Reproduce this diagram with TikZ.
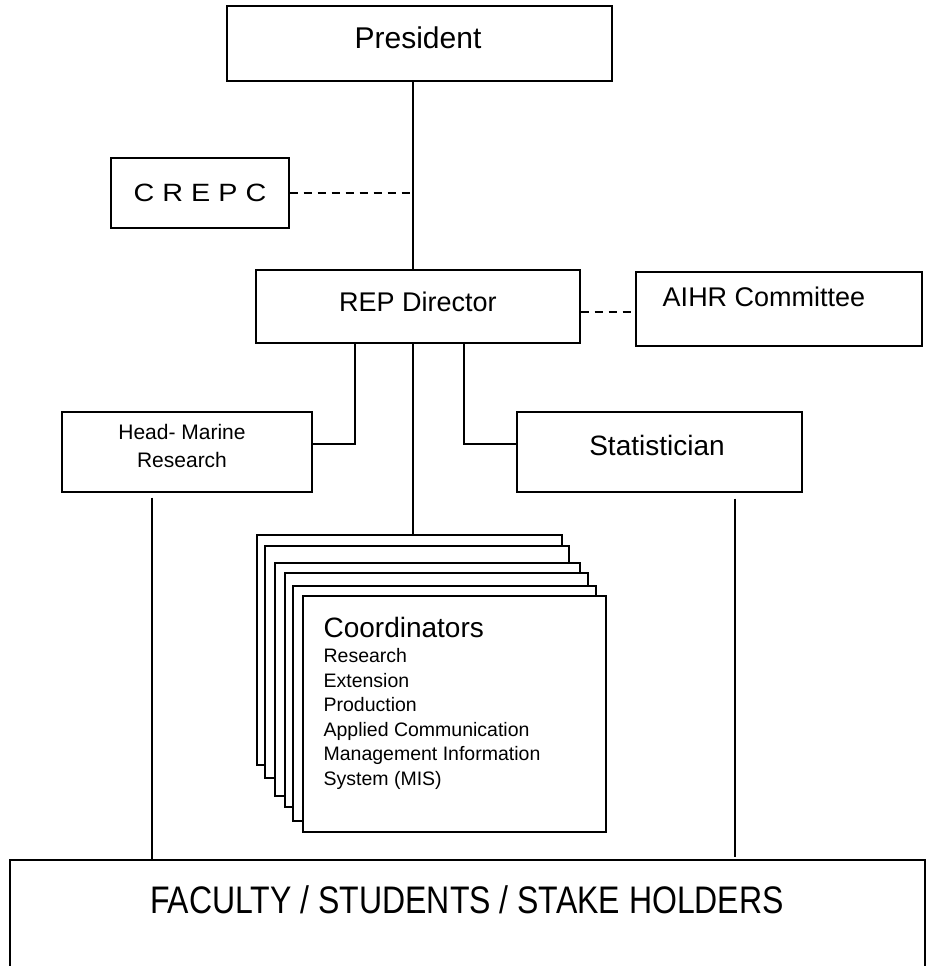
\documentclass[tikz,border=0pt]{standalone}
\usepackage{fontspec}
\setmainfont{Liberation Sans}
\usetikzlibrary{calc}
\begin{document}
\begin{tikzpicture}[x=1pt,y=-1pt,line width=1.2pt,
  box/.style={draw,rectangle,inner sep=0pt,fill=white},
  lbl/.style={inner sep=0pt},
  dashline/.style={dash pattern=on 8pt off 6pt}]
\useasboundingbox (0,0) rectangle (935,966);
% boxes
\node[box,minimum width=385,minimum height=75] (pres) at (419.5,43.5) {};
\node[box,minimum width=178,minimum height=70] (crepc) at (200,193) {};
\node[box,minimum width=324,minimum height=73] (rep) at (418,306.5) {};
\node[box,minimum width=286,minimum height=74] (aihr) at (779,309) {};
\node[box,minimum width=250,minimum height=80] (head) at (187,452) {};
\node[box,minimum width=285,minimum height=80] (stat) at (659.5,452) {};
\node[box,minimum width=915,minimum height=115] (fac) at (467.5,917.5) {};
% texts
\node[lbl,font=\fontsize{30}{36}\selectfont] (presT) at (418,38) {President};
\node[lbl,font=\fontsize{25}{30}\selectfont] (crepcT) at (200,193) {\scalebox{1.15}[1]{C R E P C}};
\node[lbl,font=\fontsize{27}{32}\selectfont] (repT) at (418,302) {REP Director};
\node[lbl,font=\fontsize{27}{32}\selectfont] (aihrT) at (764,297) {AIHR Committee};
\node[lbl,align=center,font=\fontsize{21}{28}\selectfont] (headT) at (182,446) {Head- Marine\\Research};
\node[lbl,font=\fontsize{28}{33}\selectfont] (statT) at (657,445) {Statistician};
\node[lbl,font=\fontsize{32}{38}\selectfont] (facT) at (467,900) {\scalebox{1}[1.2]{FACULTY / STUDENTS / STAKE HOLDERS}};
% connectors
\coordinate (spine) at (413,0);
\coordinate (dY) at (0,312);
\coordinate (lx) at (355,444);
\coordinate (rx) at (464,444);
\coordinate (ll) at (152,0);
\coordinate (rl) at (735,0);
\draw (pres.south -| spine) -- (rep.north -| spine);
\draw[dashline] (crepc.east) -- (crepc.east -| spine);
\draw[dashline] (rep.east |- dY) -- (aihr.west |- dY);
\draw (rep.south -| lx) -- (lx) -- (lx -| head.east);
\draw (rep.south -| rx) -- (rx) -- (rx -| stat.west);
% stacked coordinator boxes
\node[box,minimum width=305,minimum height=230] (c1) at (409.5,650) {};
\node[box,minimum width=304,minimum height=232] (c2) at (417,662) {};
\node[box,minimum width=305,minimum height=233] (c3) at (427.5,679.5) {};
\node[box,minimum width=303,minimum height=234] (c4) at (436.5,690) {};
\node[box,minimum width=303,minimum height=235] (c5) at (444.5,703.5) {};
\node[box,minimum width=303,minimum height=236] (c6) at (454.5,714) {};
\draw (rep.south -| spine) -- (c1.north -| spine);
\node[lbl,anchor=base west,font=\fontsize{28}{33}\selectfont] (coordT) at (323,637) {Coordinators};
\node[lbl,anchor=north west,align=left,font=\fontsize{19.5}{24.5}\selectfont] (listT) at (323,648)
  {Research\\Extension\\Production\\Applied Communication\\Management Information\\System (MIS)};
\draw ($(head.south -| ll)+(0,5)$) -- (fac.north -| ll);
\draw ($(stat.south -| rl)+(0,6)$) -- ($(fac.north -| rl)+(0,-2)$);
\end{tikzpicture}
\end{document}
